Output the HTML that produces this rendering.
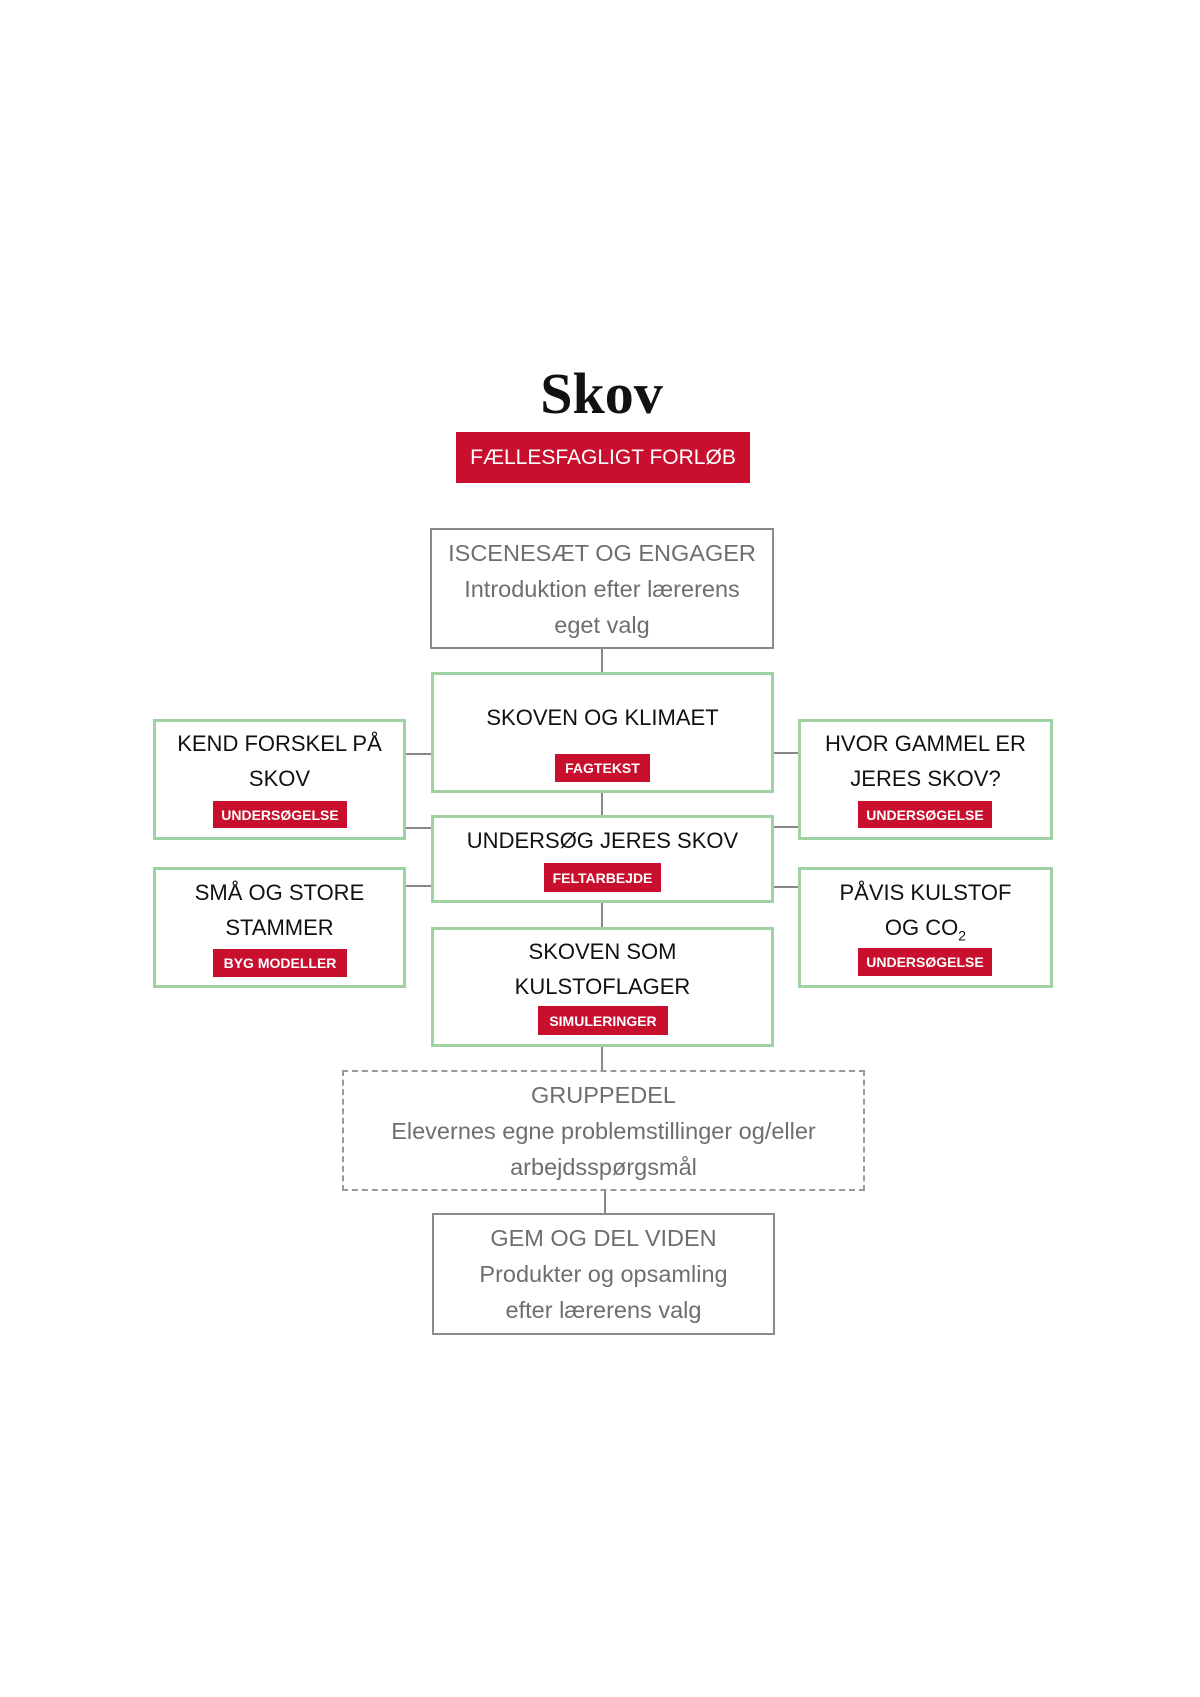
<!DOCTYPE html>
<html><head><meta charset="utf-8"><style>
body{margin:0;width:1200px;height:1697px;background:#fff;position:relative;font-family:"Liberation Sans",sans-serif;overflow:hidden}
.a{position:absolute;box-sizing:border-box}
.box{display:flex;flex-direction:column;align-items:center;justify-content:center;text-align:center}
.g{border:3px solid #9fd2a3}
.gr{border:2px solid #8a8a8a;color:#6e6e6e}
.t{font-size:22px;color:#111;line-height:35px}
.gt{font-size:23.5px;line-height:36px}
.b{background:#c8102e;color:#fff;font-size:14px;font-weight:bold;display:flex;align-items:center;justify-content:center}
.v{position:absolute;width:2px;background:#888}
.h{position:absolute;height:2px;background:#888}
</style></head><body>
<div class="a" style="left:0;width:1203px;top:360px;text-align:center;font-family:'Liberation Serif',serif;font-weight:bold;font-size:58px;color:#111">Skov</div>
<div class="a b" style="left:456px;top:432px;width:294px;height:51px;font-size:21px;font-weight:normal">FÆLLESFAGLIGT FORLØB</div>

<div class="v" style="left:601px;top:649px;height:24px"></div>
<div class="v" style="left:601px;top:793px;height:23px"></div>
<div class="v" style="left:601px;top:903px;height:24px"></div>
<div class="v" style="left:601px;top:1047px;height:23px"></div>
<div class="v" style="left:604px;top:1191px;height:22px"></div>
<div class="h" style="left:406px;top:753px;width:25px"></div>
<div class="h" style="left:406px;top:827px;width:25px"></div>
<div class="h" style="left:406px;top:885px;width:25px"></div>
<div class="h" style="left:774px;top:752px;width:24px"></div>
<div class="h" style="left:774px;top:826px;width:24px"></div>
<div class="h" style="left:774px;top:886px;width:24px"></div>

<div class="a box gr" style="left:430px;top:528px;width:344px;height:121px"><div class="gt">ISCENESÆT OG ENGAGER<br>Introduktion efter lærerens<br>eget valg</div></div>

<div class="a g" style="left:431px;top:672px;width:343px;height:121px"></div>
<div class="a t" style="left:431px;top:700px;width:343px;text-align:center">SKOVEN OG KLIMAET</div>
<div class="a b" style="left:555px;top:754px;width:95px;height:28px">FAGTEKST</div>

<div class="a g" style="left:153px;top:719px;width:253px;height:121px"></div>
<div class="a t" style="left:153px;top:726px;width:253px;text-align:center">KEND FORSKEL PÅ<br>SKOV</div>
<div class="a b" style="left:213px;top:801px;width:134px;height:27px">UNDERSØGELSE</div>

<div class="a g" style="left:798px;top:719px;width:255px;height:121px"></div>
<div class="a t" style="left:798px;top:726px;width:255px;text-align:center">HVOR GAMMEL ER<br>JERES SKOV?</div>
<div class="a b" style="left:858px;top:801px;width:134px;height:27px">UNDERSØGELSE</div>

<div class="a g" style="left:431px;top:815px;width:343px;height:88px"></div>
<div class="a t" style="left:431px;top:823px;width:343px;text-align:center">UNDERSØG JERES SKOV</div>
<div class="a b" style="left:544px;top:863px;width:117px;height:29px">FELTARBEJDE</div>

<div class="a g" style="left:153px;top:867px;width:253px;height:121px"></div>
<div class="a t" style="left:153px;top:875px;width:253px;text-align:center">SMÅ OG STORE<br>STAMMER</div>
<div class="a b" style="left:213px;top:949px;width:134px;height:28px">BYG MODELLER</div>

<div class="a g" style="left:798px;top:867px;width:255px;height:121px"></div>
<div class="a t" style="left:798px;top:875px;width:255px;text-align:center">PÅVIS KULSTOF<br>OG CO<sub style="font-size:14px;line-height:0">2</sub></div>
<div class="a b" style="left:858px;top:948px;width:134px;height:28px">UNDERSØGELSE</div>

<div class="a g" style="left:431px;top:927px;width:343px;height:120px"></div>
<div class="a t" style="left:431px;top:934px;width:343px;text-align:center">SKOVEN SOM<br>KULSTOFLAGER</div>
<div class="a b" style="left:538px;top:1006px;width:130px;height:29px">SIMULERINGER</div>

<div class="a box" style="left:342px;top:1070px;width:523px;height:121px;border:2px dashed #999;color:#6e6e6e"><div class="gt">GRUPPEDEL<br>Elevernes egne problemstillinger og/eller<br>arbejdsspørgsmål</div></div>

<div class="a box gr" style="left:432px;top:1213px;width:343px;height:122px"><div class="gt">GEM OG DEL VIDEN<br>Produkter og opsamling<br>efter lærerens valg</div></div>
</body></html>
